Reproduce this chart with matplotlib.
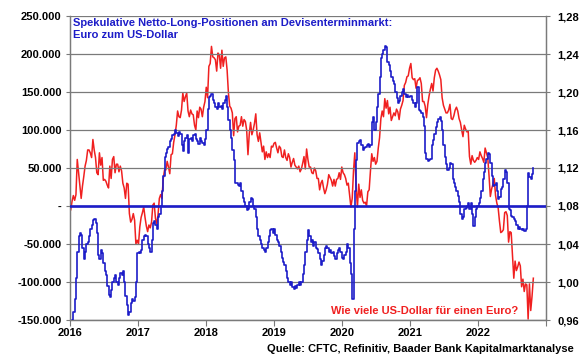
import matplotlib
matplotlib.use('Agg')
import matplotlib.pyplot as plt
import matplotlib.dates as mdates
from matplotlib.ticker import FuncFormatter, FixedLocator
import numpy as np
import pandas as pd

plt.rcParams.update({
    'font.family': ['Liberation Sans', 'DejaVu Sans'],
    'font.weight': 'bold',
    'font.size': 8,
})

# weekly data (Tuesdays), Jan 2016 - Oct 2022
# EUR/USD
eurusd_2016 = [1.076, 1.085, 1.091, 1.086, 1.092, 1.129, 1.115, 1.101, 1.088, 1.101, 1.111, 1.122, 1.128,
               1.139, 1.139, 1.136, 1.131, 1.150, 1.139, 1.131, 1.115, 1.113, 1.136, 1.123, 1.131, 1.107,
               1.108, 1.106, 1.102, 1.099, 1.122, 1.109, 1.129, 1.132, 1.115, 1.124, 1.124, 1.116, 1.122,
               1.117, 1.104, 1.099, 1.088, 1.104, 1.103, 1.072, 1.063, 1.066, 1.072, 1.065, 1.040, 1.044]
eurusd_2017 = [1.040, 1.058, 1.068, 1.073, 1.079, 1.068, 1.059, 1.053, 1.060, 1.057, 1.063, 1.081, 1.083,
               1.067, 1.061, 1.071, 1.088, 1.092, 1.088, 1.109, 1.118, 1.118, 1.127, 1.121, 1.114, 1.134,
               1.135, 1.147, 1.155, 1.165, 1.180, 1.174, 1.173, 1.181, 1.199, 1.190, 1.195, 1.199, 1.180,
               1.174, 1.181, 1.177, 1.176, 1.165, 1.160, 1.180, 1.173, 1.184, 1.182, 1.174, 1.184, 1.190]
eurusd_2018 = [1.205, 1.194, 1.227, 1.230, 1.248, 1.237, 1.236, 1.234, 1.222, 1.241, 1.239, 1.225, 1.244,
               1.227, 1.236, 1.237, 1.223, 1.199, 1.185, 1.183, 1.178, 1.154, 1.172, 1.174, 1.158, 1.164,
               1.165, 1.174, 1.164, 1.171, 1.169, 1.160, 1.134, 1.156, 1.168, 1.155, 1.160, 1.167, 1.177,
               1.155, 1.148, 1.157, 1.147, 1.137, 1.143, 1.129, 1.137, 1.131, 1.135, 1.131, 1.143, 1.142]
eurusd_2019 = [1.146, 1.147, 1.141, 1.136, 1.143, 1.141, 1.132, 1.131, 1.139, 1.131, 1.128, 1.135, 1.131,
               1.121, 1.126, 1.130, 1.123, 1.121, 1.119, 1.122, 1.116, 1.119, 1.125, 1.132, 1.119, 1.140,
               1.129, 1.121, 1.121, 1.115, 1.114, 1.120, 1.117, 1.109, 1.109, 1.097, 1.104, 1.107, 1.099,
               1.093, 1.097, 1.103, 1.113, 1.110, 1.107, 1.101, 1.108, 1.101, 1.108, 1.109, 1.115, 1.108, 1.121]
eurusd_2020 = [1.115, 1.113, 1.109, 1.102, 1.104, 1.092, 1.079, 1.088, 1.117, 1.136, 1.099, 1.079, 1.103,
               1.089, 1.097, 1.086, 1.083, 1.084, 1.080, 1.095, 1.097, 1.117, 1.135, 1.127, 1.131, 1.124,
               1.127, 1.141, 1.152, 1.172, 1.180, 1.174, 1.193, 1.183, 1.191, 1.177, 1.184, 1.170, 1.174,
               1.178, 1.175, 1.182, 1.179, 1.171, 1.182, 1.186, 1.191, 1.207, 1.210, 1.216, 1.217, 1.225]
eurusd_2021 = [1.230, 1.215, 1.213, 1.214, 1.204, 1.212, 1.213, 1.215, 1.209, 1.190, 1.190, 1.185, 1.173,
               1.187, 1.196, 1.203, 1.209, 1.201, 1.215, 1.223, 1.225, 1.222, 1.218, 1.213, 1.194, 1.186,
               1.182, 1.178, 1.178, 1.181, 1.187, 1.172, 1.171, 1.175, 1.181, 1.184, 1.180, 1.172, 1.168,
               1.160, 1.153, 1.165, 1.161, 1.158, 1.159, 1.132, 1.124, 1.133, 1.128, 1.126, 1.128, 1.131]
eurusd_2022 = [1.129, 1.137, 1.133, 1.130, 1.126, 1.141, 1.136, 1.131, 1.112, 1.090, 1.098, 1.103, 1.109,
               1.091, 1.083, 1.078, 1.064, 1.052, 1.053, 1.055, 1.073, 1.074, 1.070, 1.042, 1.053, 1.052,
               1.027, 1.004, 1.022, 1.012, 1.016, 1.021, 1.017, 0.995, 1.003, 0.990, 0.998, 0.997, 0.961,
               0.998, 0.970, 0.985, 1.004]

# speculative net long positions EUR (thousand contracts)
netlong_2016 = [-158, -150, -140, -122, -95, -60, -40, -36, -38, -55, -70, -60, -50,
                -48, -40, -30, -25, -18, -17, -22, -35, -65, -70, -58, -62, -75,
                -85, -91, -105, -117, -120, -110, -100, -95, -91, -100, -104, -95, -88,
                -91, -85, -100, -118, -130, -143, -139, -128, -122, -125, -120, -100, -62]
netlong_2017 = [-60, -62, -58, -45, -40, -38, -40, -50, -55, -60, -45, -22, -20,
                -25, -30, -15, -10, 0, 20, 40, 65, 70, 75, 78, 85, 88,
                93, 95, 100, 96, 92, 98, 95, 80, 72, 85, 90, 94, 70,
                88, 90, 85, 93, 95, 88, 85, 82, 90, 85, 83, 80, 88]
netlong_2018 = [100, 128, 143, 145, 148, 140, 135, 130, 128, 135, 130, 132, 128,
                135, 140, 145, 130, 113, 100, 90, 74, 60, 30, 30, 28, 26,
                30, 20, 10, 5, 0, -5, -4, 5, 10, 9, 0, -4, -15,
                -30, -40, -45, -50, -55, -58, -61, -55, -48, -40, -32, -30, -36]
netlong_2019 = [-30, -38, -45, -48, -52, -60, -68, -74, -78, -85, -95, -100, -104,
                -100, -106, -109, -105, -108, -104, -100, -104, -100, -90, -78, -60, -45,
                -32, -40, -48, -45, -52, -48, -55, -57, -62, -70, -78, -72, -65,
                -55, -52, -55, -60, -58, -62, -60, -66, -70, -62, -58, -55, -60, -68]
netlong_2020 = [-70, -65, -60, -50, -55, -75, -90, -123, -30, 20, 60, 83, 85,
                87, 80, 74, 76, 78, 80, 82, 78, 80, 110, 117, 100, 110,
                130, 148, 170, 195, 200, 205, 211, 209, 190, 185, 178, 170, 165,
                161, 150, 142, 135, 138, 145, 150, 154, 148, 143, 146, 143, 145]
netlong_2021 = [145, 140, 135, 130, 135, 157, 126, 125, 122, 117, 105, 70, 62,
                59, 61, 62, 80, 87, 95, 104, 110, 115, 117, 112, 100, 80,
                65, 55, 48, 50, 57, 55, 35, 30, 25, 20, 13, 5, -10,
                -17, -15, -4, -2, 0, 4, -4, 4, -10, -26, -15, -4, 0]
netlong_2022 = [4, 10, 20, 35, 45, 57, 62, 70, 68, 57, 40, 26, 28,
                30, 20, 9, 12, 22, 25, 35, 48, 45, 30, -4, -5, -13,
                -15, -17, -20, -25, -30, -28, -30, -32, -30, -33, -30, 0, 43,
                38, 35, 42, 50]

eurusd = eurusd_2016 + eurusd_2017 + eurusd_2018 + eurusd_2019 + eurusd_2020 + eurusd_2021 + eurusd_2022
netlong = netlong_2016 + netlong_2017 + netlong_2018 + netlong_2019 + netlong_2020 + netlong_2021 + netlong_2022
netlong = np.array(netlong) * 1000
dates = pd.date_range('2016-01-05', periods=len(eurusd), freq='7D')

years = list(range(2016, 2024))
left_ticks = [-150000, -100000, -50000, 0, 50000, 100000, 150000, 200000, 250000]
right_ticks = [0.96, 1.00, 1.04, 1.08, 1.12, 1.16, 1.20, 1.24, 1.28]

blue = '#1c1cc8'
red = '#f02020'
grid = '#7a7a7a'

fig = plt.figure(figsize=(5.8, 3.59), dpi=100)
ax = fig.add_axes([70/580, 1-320/359, 476/580, 304/359])
ax2 = ax.twinx()

for a in (ax, ax2):
    for s in a.spines.values():
        s.set_color(grid)
        s.set_linewidth(0.9)
ax.spines['top'].set_visible(False)
ax2.spines['top'].set_visible(False)

ax.set_ylim(-150000, 250000)
ax2.set_ylim(0.96, 1.28)
ax.set_xlim(pd.Timestamp('2016-01-01'), pd.Timestamp('2023-01-01'))

ax.yaxis.set_major_locator(FixedLocator(left_ticks))
ax2.yaxis.set_major_locator(FixedLocator(right_ticks))

def left_fmt(v, pos):
    if abs(v) < 1:
        return '-'
    return f'{v:,.0f}'.replace(',', '.')

def right_fmt(v, pos):
    return f'{v:.2f}'.replace('.', ',')

ax.yaxis.set_major_formatter(FuncFormatter(left_fmt))
ax2.yaxis.set_major_formatter(FuncFormatter(right_fmt))

ax.xaxis.set_major_locator(FixedLocator([mdates.date2num(pd.Timestamp(f'{y}-01-01')) for y in years]))
ax.xaxis.set_major_formatter(FuncFormatter(lambda v, p: str(mdates.num2date(v).year) if mdates.num2date(v).year < 2023 else ''))

ax.tick_params(axis='y', length=3, color=grid, labelsize=8, pad=3)
ax2.tick_params(axis='y', length=3, color=grid, labelsize=8, pad=5)
ax.tick_params(axis='x', length=4, color=grid, labelsize=8, pad=2)

for t in left_ticks:
    ax.axhline(t, color=grid, lw=0.9, zorder=0)

ax.plot(dates, netlong, color=blue, lw=1.2, drawstyle='steps-post', zorder=3)
ax.axhline(0, color=blue, lw=1.9, zorder=4)
ax2.plot(dates, eurusd, color=red, lw=1.1, zorder=2)

ax.set_zorder(ax2.get_zorder() + 1)
ax.patch.set_visible(False)

fig.text(73/580, 1-18/359, 'Spekulative Netto-Long-Positionen am Devisenterminmarkt:\nEuro zum US-Dollar',
         color=blue, fontsize=8, fontweight='bold', va='top', ha='left', linespacing=1.3)
fig.text(518/580, 1-311/359, 'Wie viele US-Dollar für einen Euro?', color=red,
         fontsize=8, fontweight='bold', ha='right', va='center')
fig.text(574/580, 1-349/359, 'Quelle: CFTC, Refinitiv, Baader Bank Kapitalmarktanalyse', color='black',
         fontsize=8, fontweight='bold', ha='right', va='center')

fig.savefig('out.png', dpi=100)
